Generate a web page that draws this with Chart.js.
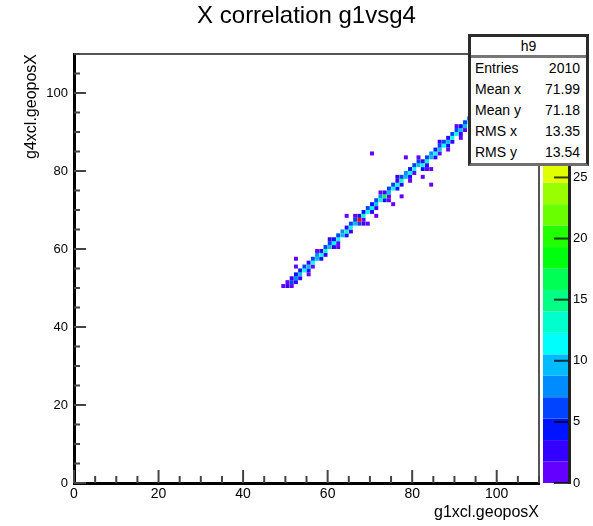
<!DOCTYPE html>
<html>
<head>
<meta charset="utf-8">
<script src="https://cdn.jsdelivr.net/npm/chart.js@4.4.0/dist/chart.umd.min.js"></script>
<style>
body { margin: 0; background: #fff; }
#wrap { position: relative; width: 593px; height: 526px; }
#stats {
  position: absolute; left: 468px; top: 34px; width: 115px; height: 126px;
  border: 3px solid #2b2b2b; border-bottom-color: #6e6e6e;
  background: #fff; font: 14px 'Liberation Sans', Arial, sans-serif; color: #000;
}
#stats .head { height: 18px; line-height: 18px; text-align: center; border-bottom: 3px solid #777; }
#stats .row { height: 21px; line-height: 21px; padding: 0 6px 0 4px; }
#stats .row span { float: right; }
</style>
</head>
<body>
<div id="wrap">
  <canvas id="h9" width="593" height="526"></canvas>
  <div id="stats">
    <div class="head">h9</div>
    <div class="row">Entries<span>2010</span></div>
    <div class="row">Mean x<span>71.99</span></div>
    <div class="row">Mean y<span>71.18</span></div>
    <div class="row">RMS x<span>13.35</span></div>
    <div class="row">RMS y<span>13.54</span></div>
  </div>
</div>
<script>
// bins are 1 unit wide; each column has a main cell on the diagonal plus its neighbours
var colX = [50,51,52,53,54,55,56,57,58,59,60,61,62,63,64,65,66,67,68,69,70,71,72,73,74,75,76,77,78,79,80,81,82,83,84,85,86,87,88,89,90,91,92,93,94,95];
var colY = [50,51,52,53,54,55,56,57,58,59,60,61,62,63,64,65,66,67,68,69,70,71,72,73,74,75,76,77,78,79,80,81,81,82,83,84,85,86,87,88,89,90,91,92,93,94];
var belowN = [0,1,2,3,0,4,1,0,5,2, 0,3,1,0,4,2,0,6,1,0, 3,2,0,4,1,0,5,2,0,3, 1,0,4,2,0,3,1,0,5,2, 0,3,1,0,2,1];
var mainN  = [3,6,8,9,11,10,12,9,11,13, 10,12,11,9,13,12,10,35,14,11, 12,9,13,16,10,12,11,13,9,11, 12,10,11,13,10,12,9,11,10,12, 11,9,10,11,9,8];
var aboveN = [1,2,4,5,7,2,6,8,3,6, 7,4,6,8,3,6,7,5,4,7, 5,6,8,2,6,7,3,6,8,5, 6,7,3,6,8,5,6,7,2,6, 7,4,6,7,5,3];

// stray cells off the line
var extraX = [49,52,52,55,57,60,62,64,66,68,69,70,71,72,74,75,76,77,78,79,81,82,83,84,84,86,88,90,91];
var extraY = [50,57,55,53,59,62,60,68,68,66,66,84,68,74,72,71,78,73,83,77,83,78,80,80,76,87,85,91,88];
var extraN = [1,1,1,1,1,2,1,1,1,2,1,1,1,1,1,1,2,1,1,1,1,1,1,1,1,2,1,1,1];

var axisLabels = [0,20,40,60,80,100];
var zLabels = [0,5,10,15,20,25];
var zMax = 35.1;
var nLevels = 20;

var cells = [];
function addCell(x, y, n) {
  if (n > 0) cells.push({x: x + 0.5, y: y + 0.5, n: n});
}
for (var i = 0; i < colX.length; i++) {
  addCell(colX[i], colY[i] - 1, belowN[i]);
  addCell(colX[i], colY[i], mainN[i]);
  addCell(colX[i], colY[i] + 1, aboveN[i]);
}
for (var k = 0; k < extraX.length; k++) {
  addCell(extraX[k], extraY[k], extraN[k]);
}

// ROOT "pretty palette": 50 hues from purple down to red, 20 contour levels
function levelColor(j) {
  var idx = Math.floor((j + 0.99) * 50 / nLevels);
  var hue = 280 - (idx + 1) * 280 / 50;
  return 'hsl(' + hue + ',100%,50%)';
}
function cellColor(n) {
  var j = Math.floor(0.01 + n * nLevels / zMax);
  if (j > nLevels - 1) j = nLevels - 1;
  return levelColor(j);
}

var font = "'Liberation Sans', Arial, sans-serif";

var rootFrame = {
  id: 'rootFrame',
  afterDraw: function(chart) {
    var ctx = chart.ctx, a = chart.chartArea;
    var xs = chart.scales.x, ys = chart.scales.y, zs = chart.scales.z;
    ctx.save();
    // palette
    for (var j = 0; j < nLevels; j++) {
      var y1 = zs.getPixelForValue(j * zMax / nLevels);
      var y2 = zs.getPixelForValue((j + 1) * zMax / nLevels);
      ctx.fillStyle = levelColor(j);
      ctx.fillRect(a.right + 4, y2, 25, y1 - y2);
    }
    ctx.strokeStyle = '#222';
    ctx.lineWidth = 3;
    ctx.beginPath();
    ctx.moveTo(a.right + 30.5, a.top);
    ctx.lineTo(a.right + 30.5, a.bottom + 1);
    ctx.stroke();
    ctx.strokeStyle = 'rgba(0,0,0,0.75)';
    ctx.lineWidth = 2;
    zs.ticks.forEach(function(t) {
      if (zLabels.indexOf(t.value) < 0) return;
      var py = zs.getPixelForValue(t.value);
      ctx.beginPath();
      ctx.moveTo(a.right + 15, py);
      ctx.lineTo(a.right + 29, py);
      ctx.stroke();
    });
    // frame top and right
    ctx.strokeStyle = '#555';
    ctx.lineWidth = 2;
    ctx.beginPath();
    ctx.moveTo(a.left, a.top);
    ctx.lineTo(a.right, a.top);
    ctx.lineTo(a.right, a.bottom);
    ctx.stroke();
    // ticks pointing into the frame
    ctx.strokeStyle = '#444';
    ctx.lineWidth = 2;
    xs.ticks.forEach(function(t) {
      var px = xs.getPixelForValue(t.value);
      var len = t.value % 20 === 0 ? 13 : 7;
      ctx.beginPath();
      ctx.moveTo(px, a.bottom);
      ctx.lineTo(px, a.bottom - len);
      ctx.stroke();
    });
    ys.ticks.forEach(function(t) {
      var py = ys.getPixelForValue(t.value);
      var len = t.value % 20 === 0 ? 12 : 6;
      ctx.beginPath();
      ctx.moveTo(a.left, py);
      ctx.lineTo(a.left + len, py);
      ctx.stroke();
    });
    ctx.restore();
  }
};

var ctx = document.getElementById('h9').getContext('2d');
var chart = new Chart(ctx, {
  type: 'scatter',
  data: {
    datasets: [{
      data: cells,
      pointStyle: 'rect',
      pointRadius: 2.8,
      pointBorderWidth: 0,
      pointBackgroundColor: function(c) { return c.raw ? cellColor(c.raw.n) : '#000'; }
    }]
  },
  options: {
    responsive: false,
    animation: false,
    events: [],
    layout: { padding: 0 },
    plugins: {
      legend: { display: false },
      tooltip: { enabled: false },
      title: {
        display: true,
        text: 'X correlation g1vsg4',
        fullSize: false,
        color: '#000',
        font: { family: font, size: 24, weight: 'normal' },
        padding: { top: 1.6, bottom: 23.6 }
      }
    },
    scales: {
      x: {
        type: 'linear', min: 0, max: 110,
        grid: { display: false, drawTicks: false },
        border: { display: true, color: '#000', width: 3 },
        ticks: {
          stepSize: 5, autoSkip: false, maxRotation: 0, padding: 3, color: '#000',
          font: { family: font, size: 14 },
          callback: function(v) { return axisLabels.indexOf(v) >= 0 ? v : ''; }
        },
        title: {
          display: true, text: 'g1xcl.geoposX', align: 'end', color: '#000',
          font: { family: font, size: 16 }, padding: { top: 0, bottom: 3.4 }
        },
        afterFit: function(s) { s.height = 43; }
      },
      y: {
        type: 'linear', min: 0, max: 110,
        grid: { display: false, drawTicks: false },
        border: { display: true, color: '#000', width: 3 },
        ticks: {
          stepSize: 5, autoSkip: false, padding: 6, color: '#000',
          font: { family: font, size: 13 },
          callback: function(v) { return axisLabels.indexOf(v) >= 0 ? v : ''; }
        },
        title: {
          display: true, text: 'g4xcl.geoposX', align: 'end', color: '#000',
          font: { family: font, size: 16 }, padding: { top: 22, bottom: 0 }
        },
        afterFit: function(s) { s.width = 74; }
      },
      z: {
        type: 'linear', position: 'right', min: 0, max: zMax,
        grid: { display: false, drawTicks: false },
        border: { display: false },
        ticks: {
          stepSize: 5, autoSkip: false, padding: 34, color: '#000',
          font: { family: font, size: 13 },
          callback: function(v) { return zLabels.indexOf(v) >= 0 ? v : ''; }
        },
        afterFit: function(s) { s.width = 54; }
      }
    }
  },
  plugins: [rootFrame]
});
</script>
</body>
</html>
